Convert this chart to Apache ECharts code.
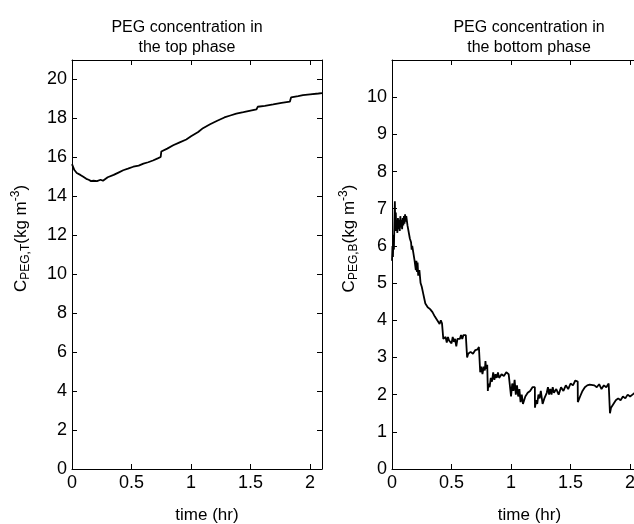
<!DOCTYPE html>
<html>
<head>
<meta charset="utf-8">
<script src="https://cdn.jsdelivr.net/npm/echarts@6/dist/echarts.min.js"></script>
<style>
  html, body { margin: 0; padding: 0; background: #fff; }
  #chart { width: 634px; height: 524px; }
</style>
</head>
<body>
<div id="chart"></div>
<script>
// PEG concentration, top phase
var topTime = [0, 0.005, 0.02, 0.04, 0.07, 0.095, 0.12, 0.14, 0.16, 0.18, 0.21, 0.24, 0.26, 0.3, 0.35, 0.39, 0.43, 0.47, 0.515, 0.56, 0.6, 0.64, 0.68, 0.72, 0.745, 0.75, 0.8, 0.85, 0.9, 0.96, 1.0, 1.06, 1.1, 1.16, 1.22, 1.28, 1.33, 1.38, 1.44, 1.5, 1.55, 1.56, 1.62, 1.69, 1.76, 1.83, 1.84, 1.9, 1.94, 2.0, 2.07, 2.1]
var topConc = [15.65, 15.55, 15.35, 15.2, 15.1, 15.0, 14.9, 14.85, 14.78, 14.8, 14.78, 14.85, 14.8, 14.98, 15.1, 15.22, 15.34, 15.42, 15.52, 15.58, 15.68, 15.75, 15.84, 15.95, 16.02, 16.3, 16.45, 16.62, 16.76, 16.92, 17.08, 17.3, 17.5, 17.7, 17.88, 18.05, 18.15, 18.25, 18.32, 18.4, 18.46, 18.6, 18.65, 18.72, 18.8, 18.86, 19.08, 19.15, 19.2, 19.24, 19.28, 19.3]

// PEG concentration, bottom phase
var botTime = [0, 0.004, 0.008, 0.012, 0.016, 0.02, 0.024, 0.028, 0.032, 0.036, 0.04, 0.045, 0.05, 0.055, 0.06, 0.065, 0.07, 0.075, 0.08, 0.085, 0.09, 0.095, 0.1, 0.105, 0.11, 0.115, 0.12, 0.13, 0.14, 0.15, 0.16, 0.165, 0.17, 0.18, 0.19, 0.2, 0.205, 0.21, 0.215, 0.22, 0.23, 0.24, 0.25, 0.26, 0.27, 0.28, 0.29, 0.3, 0.32, 0.34, 0.36, 0.38, 0.4, 0.41, 0.42, 0.43,
  0.431, 0.44, 0.45, 0.46, 0.47, 0.48, 0.49, 0.5, 0.51, 0.52, 0.53, 0.54, 0.55, 0.56, 0.57, 0.58, 0.59, 0.6, 0.61, 0.62, 0.63,
  0.631, 0.64, 0.66, 0.68, 0.7, 0.72, 0.73, 0.74,
  0.741, 0.75, 0.76, 0.77, 0.78, 0.785, 0.79, 0.8,
  0.805, 0.81, 0.82, 0.83, 0.84, 0.85, 0.86, 0.87, 0.88, 0.89, 0.9, 0.92, 0.94, 0.96, 0.98, 0.995,
  1.0, 1.01, 1.02, 1.03, 1.04, 1.05, 1.06, 1.07, 1.08, 1.09, 1.1, 1.12, 1.14, 1.16, 1.18, 1.19, 1.2,
  1.201, 1.21, 1.22, 1.23, 1.24, 1.25, 1.26, 1.265, 1.28, 1.3, 1.31, 1.32, 1.33, 1.34, 1.35, 1.36, 1.38, 1.4, 1.42, 1.44, 1.46, 1.48, 1.5, 1.52, 1.54, 1.56,
  1.561, 1.58, 1.6, 1.62, 1.64, 1.66, 1.7, 1.72, 1.74, 1.76, 1.78, 1.8, 1.82, 1.83,
  1.831, 1.84, 1.86, 1.88, 1.9, 1.92, 1.94, 1.96, 1.98, 2.0, 2.02, 2.04, 2.06, 2.08, 2.1]
var botConc = [5.6, 6.0, 5.7, 6.3, 5.9, 6.6, 7.2, 6.4, 6.9, 6.4, 6.7, 6.35, 6.75, 6.45, 6.7, 6.4, 6.8, 6.5, 6.7, 6.45, 6.75, 6.55, 6.8, 6.6, 6.85, 6.65, 6.8, 6.55, 6.5, 6.2, 6.1, 5.9, 6.0, 5.8, 5.6, 5.35, 5.6, 5.3, 5.55, 5.2, 5.35, 5.0, 4.9, 4.75, 4.6, 4.45, 4.4, 4.35, 4.3, 4.22, 4.1, 4.0, 3.9, 4.0, 3.92, 3.95,
  3.5, 3.45, 3.55, 3.4, 3.55, 3.45, 3.5, 3.38, 3.55, 3.42, 3.5, 3.3, 3.5, 3.55, 3.5, 3.6, 3.5, 3.6, 3.55, 3.6, 3.55,
  3.0, 3.1, 3.15, 3.1, 3.2, 3.22, 3.28, 3.25,
  2.6, 2.75, 2.55, 2.75, 2.65, 2.9, 2.7, 2.8,
  2.1, 2.3, 2.2, 2.45, 2.35, 2.6, 2.4, 2.55, 2.45, 2.6, 2.45, 2.55, 2.5, 2.6, 2.55, 2.6,
  1.95, 2.3, 2.1, 2.4, 2.0, 2.25, 1.95, 2.15, 1.8, 2.0, 1.75, 1.95, 2.05, 2.1, 2.2, 2.15, 2.2,
  1.65, 1.85, 1.75, 2.0, 1.9, 2.1, 2.05, 1.75, 1.9, 2.05, 2.2, 2.0, 2.15, 2.0, 2.2, 2.05, 2.15, 2.0, 2.2, 2.1, 2.25, 2.15, 2.3, 2.25, 2.38, 2.35,
  1.8, 1.95, 2.1, 2.2, 2.25, 2.27, 2.25, 2.2, 2.28, 2.15, 2.25, 2.2, 2.3, 2.25,
  1.5, 1.65, 1.75, 1.85, 1.9, 1.85, 1.95, 1.9, 2.0, 1.95, 2.0, 2.05, 1.95, 2.0, 2.05]

var titles = ['PEG concentration in\nthe top phase', 'PEG concentration in\nthe bottom phase']

var FONT = 'Liberation Sans, Arial, sans-serif'

function pairs(xs, ys) {
  return xs.map(function (x, i) { return [x, ys[i]] })
}

function yName(sub) {
  return '{m|C}{s|' + sub + '}{m|(kg m}{p|-3}{m|)}'
}

var nameRich = {
  m: { fontSize: 17, fontFamily: FONT, color: '#000', lineHeight: 22 },
  s: { fontSize: 12, fontFamily: FONT, color: '#000', lineHeight: 12, verticalAlign: 'bottom' },
  p: { fontSize: 12, fontFamily: FONT, color: '#000', lineHeight: 12, verticalAlign: 'top' }
}

// matlab-style box: ticks inside on all four sides
var tick = { inside: true, length: 5, lineStyle: { color: '#000' } }
var line = { show: true, onZero: false, lineStyle: { color: '#000' } }

function xAxes(gridIndex, padLeft) {
  return [{
    type: 'value', gridIndex: gridIndex, min: 0, max: 2.1, interval: 0.5,
    axisLine: line,
    axisTick: tick,
    splitLine: { show: false },
    axisLabel: { color: '#000', fontSize: 18, fontFamily: FONT, margin: 5, showMaxLabel: false },
    name: 'time (hr)', nameLocation: 'middle', nameGap: 38,
    nameTextStyle: { color: '#000', fontSize: 17, fontFamily: FONT, padding: [0, 0, 0, padLeft] }
  }, {
    type: 'value', gridIndex: gridIndex, position: 'top', min: 0, max: 2.1, interval: 0.5,
    axisLine: line,
    axisTick: tick,
    splitLine: { show: false },
    axisLabel: { show: false }
  }]
}

function yAxes(gridIndex, max, interval, sub, gap) {
  return [{
    type: 'value', gridIndex: gridIndex, min: 0, max: max, interval: interval,
    axisLine: line,
    axisTick: tick,
    splitLine: { show: false },
    axisLabel: { color: '#000', fontSize: 18, fontFamily: FONT, margin: 5, showMaxLabel: false },
    name: yName(sub), nameLocation: 'middle', nameGap: gap,
    nameTextStyle: { rich: nameRich, padding: [0, 0, 0, 52] }
  }, {
    type: 'value', gridIndex: gridIndex, position: 'right', min: 0, max: max, interval: interval,
    axisLine: line,
    axisTick: tick,
    splitLine: { show: false },
    axisLabel: { show: false }
  }]
}

var chart = echarts.init(document.getElementById('chart'))

chart.setOption({
  animation: false,
  backgroundColor: '#fff',
  title: [
    { text: titles[0], left: 182, top: 13, textAlign: 'center',
      textStyle: { fontSize: 16, fontWeight: 'normal', color: '#000', fontFamily: FONT, lineHeight: 20 } },
    { text: titles[1], left: 524, top: 13, textAlign: 'center',
      textStyle: { fontSize: 16, fontWeight: 'normal', color: '#000', fontFamily: FONT, lineHeight: 20 } }
  ],
  grid: [
    { left: 72, top: 60, width: 250, height: 409, outerBoundsMode: 'none' },
    { left: 392, top: 60, width: 250, height: 409, outerBoundsMode: 'none' }
  ],
  xAxis: xAxes(0, 20).concat(xAxes(1, 25)),
  yAxis: yAxes(0, 21, 2, 'PEG,T', 40).concat(yAxes(1, 11, 1, 'PEG,B', 32)),
  series: [
    {
      type: 'line', xAxisIndex: 0, yAxisIndex: 0,
      data: pairs(topTime, topConc),
      showSymbol: false, lineStyle: { color: '#000', width: 1.8 }
    },
    {
      type: 'line', xAxisIndex: 2, yAxisIndex: 2,
      data: pairs(botTime, botConc),
      showSymbol: false, lineStyle: { color: '#000', width: 1.8 }
    }
  ]
})
</script>
</body>
</html>
